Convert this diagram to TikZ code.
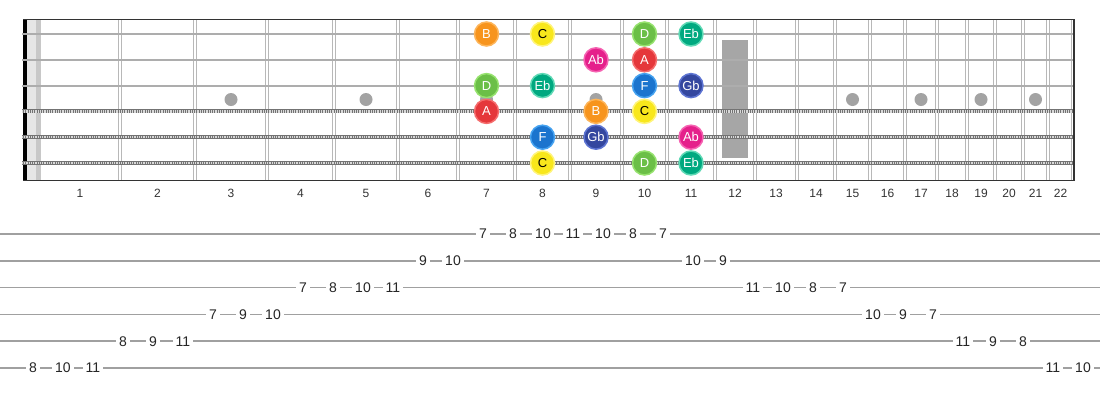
\documentclass[tikz,border=0pt]{standalone}
\usepackage{fontspec}
\setmainfont{Liberation Sans}
\usetikzlibrary{calc}

\definecolor{noteB}{HTML}{F7941D}  \definecolor{ringB}{HTML}{FDB55A}  \colorlet{txtB}{white}
\definecolor{noteC}{HTML}{F8E71C}  \definecolor{ringC}{HTML}{FFF47A}  \colorlet{txtC}{black}
\definecolor{noteD}{HTML}{6BBF47}  \definecolor{ringD}{HTML}{96E26E}  \colorlet{txtD}{white}
\definecolor{noteEb}{HTML}{00A980} \definecolor{ringEb}{HTML}{5FD9B5} \colorlet{txtEb}{white}
\definecolor{noteAb}{HTML}{E5208B} \definecolor{ringAb}{HTML}{F563B2} \colorlet{txtAb}{white}
\definecolor{noteA}{HTML}{E5373B}  \definecolor{ringA}{HTML}{F56D6D}  \colorlet{txtA}{white}
\definecolor{noteF}{HTML}{1B74CE}  \definecolor{ringF}{HTML}{45A2F0}  \colorlet{txtF}{white}
\definecolor{noteGb}{HTML}{34479F} \definecolor{ringGb}{HTML}{5D74D2} \colorlet{txtGb}{white}
\definecolor{fretgrey}{HTML}{B8B8B8}
\definecolor{stringgrey}{HTML}{ADADAD}
\definecolor{dotgrey}{HTML}{A3A3A3}
\definecolor{markgrey}{HTML}{A6A6A6}
\definecolor{nutlight}{HTML}{E6E6E6}
\definecolor{nutshade}{HTML}{C8C8C8}
\definecolor{numgrey}{HTML}{333333}
\definecolor{tabgrey}{HTML}{A0A0A0}

\begin{document}
\begin{tikzpicture}[x=1pt, y=-1pt,
  fretline/.style={fretgrey, line width=1.2pt},
  plainstring/.style={stringgrey, line width=2pt},
  woundbase/.style={black!55, line width=4pt},
  woundtwist/.style={white!70!gray, line width=2.2pt, dash pattern=on 0.9pt off 0.9pt},
  border/.style={black!80, line width=1.6pt},
  inlay/.style={circle, fill=dotgrey, minimum size=13, inner sep=0},
  note/.style={circle, minimum size=24, inner sep=0, line width=1.5pt, font=\fontsize{13}{13}\selectfont},
  pitch/.style={fill=note#1, draw=ring#1, text=txt#1},
  fretnum/.style={font=\fontsize{12}{12}\selectfont, text=numgrey},
  tabline/.style={tabgrey, line width=1.5pt},
  tabnum/.style={fill=white, inner xsep=3pt, inner ysep=1pt, font=\fontsize{14}{14}\selectfont, text=black!85}]
\fill[white] (0,0) rectangle (1100,400);
\useasboundingbox (0,0) rectangle (1100,400);

% string and tab rows
\foreach \s in {1,...,6} {
 \coordinate (s\s) at (0,{34+25.8*(\s-1)});
 \coordinate (t\s) at (0,{234+26.8*(\s-1)});
}
\coordinate (inlayrow) at (0,99.5);

% nut
\fill[nutlight] (27,19) rectangle (41,181);
\fill[nutshade] (36,19) rectangle (41,181);
\fill[black] (23,19) rectangle (27,181);

% frets and fret numbers
\foreach \x [count=\n, remember=\x as \lastx (initially 40)] in
 {120,195,267,334,398,458,515,570,622,667,715,755,797,835,870,905,937,967,995,1023,1048,1073} {
 \draw[fretline] (\x-1.5,19) -- ++(0,162);
 \draw[fretline] (\x+1.5,19) -- ++(0,162);
 \coordinate (c\n) at ({(\x+\lastx)/2},193);
 \node[fretnum] (num\n) at (c\n) {\n};
}

% inlays
\foreach \n in {3,5,7,9,15,17,19,21}
 \node[inlay] (dot\n) at (c\n |- inlayrow) {};
\fill[markgrey] (722,40) rectangle (748,158);

% strings
\foreach \s in {1,2,3}
 \draw[plainstring] (s\s) ++(22,0) -- ++(1052,0);
\foreach \s in {4,5,6} {
 \draw[woundbase] (s\s) ++(22,0) -- ++(1052,0);
 \draw[woundtwist] (s\s) ++(22,0) -- ++(1052,0);
}

% frame
\draw[border] (23,19.5) -- (1074,19.5) -- (1074,180.5) -- (23,180.5);

% scale notes
\foreach \s/\f/\p in {1/7/B, 1/8/C, 1/10/D, 1/11/Eb, 2/9/Ab, 2/10/A,
 3/7/D, 3/8/Eb, 3/10/F, 3/11/Gb, 4/7/A, 4/9/B, 4/10/C,
 5/8/F, 5/9/Gb, 5/11/Ab, 6/8/C, 6/10/D, 6/11/Eb}
 \node[note, pitch=\p] (n\s-\f) at (c\f |- s\s) {\p};

% tab
\foreach \s in {1,...,6}
 \draw[tabline] (t\s) -- ++(1100,0);
\foreach \s/\f [count=\i from 0] in {6/8, 6/10, 6/11, 5/8, 5/9, 5/11, 4/7, 4/9, 4/10,
 3/7, 3/8, 3/10, 3/11, 2/9, 2/10, 1/7, 1/8, 1/10, 1/11, 1/10, 1/8, 1/7,
 2/10, 2/9, 3/11, 3/10, 3/8, 3/7, 4/10, 4/9, 4/7, 5/11, 5/9, 5/8, 6/11, 6/10}
 \path (t\s) ++({33+30*\i},0) node[tabnum] (tab\i) {\f};
\end{tikzpicture}
\end{document}
